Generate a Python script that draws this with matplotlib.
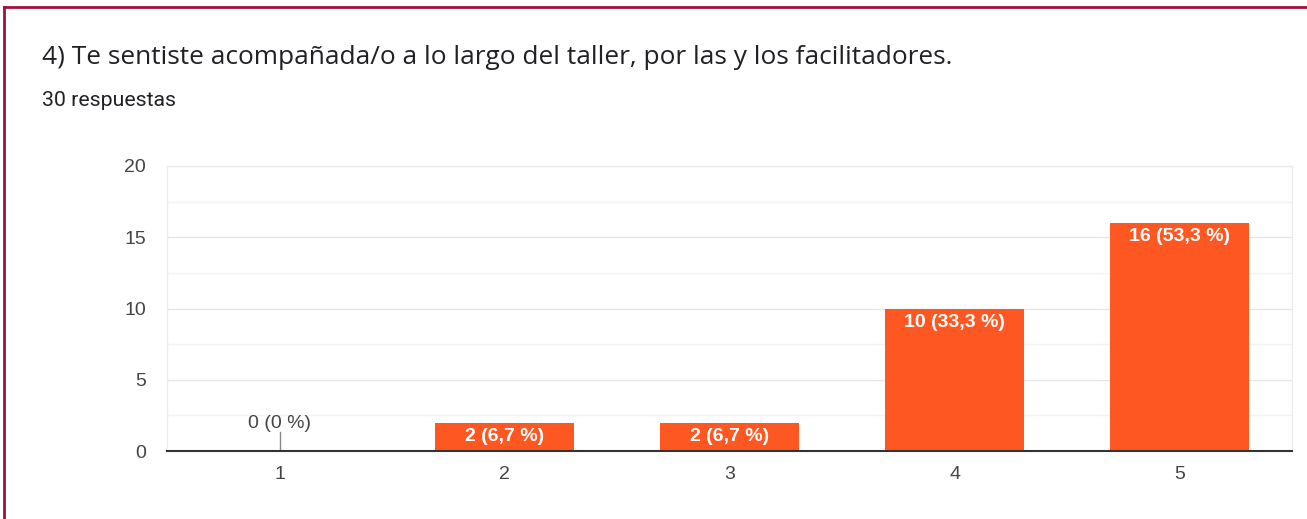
import matplotlib
matplotlib.use("Agg")
import matplotlib.pyplot as plt
from matplotlib.lines import Line2D

categories = ["1", "2", "3", "4", "5"]
counts = [0, 2, 2, 10, 16]
percents = ["0 %", "6,7 %", "6,7 %", "33,3 %", "53,3 %"]
yticks = [0, 5, 10, 15, 20]
title = "4) Te sentiste acompañada/o a lo largo del taller, por las y los facilitadores."
subtitle = "30 respuestas"

W, H = 1307, 519
fig = plt.figure(figsize=(W / 100, H / 100), dpi=100)
fig.patch.set_facecolor("white")
plt.rcParams["font.family"] = ["Liberation Sans", "DejaVu Sans"]

ax = fig.add_axes([167 / W, (H - 451) / H, (1292 - 167) / W, (451 - 166) / H])
x = list(range(len(categories)))
bar_color = "#ff5722"
bars = ax.bar(x, counts, width=0.62, color=bar_color, zorder=3)
ax.set_xlim(-0.5, len(categories) - 0.5)
ax.set_ylim(0, 20)
ax.set_yticks(yticks)
ax.set_yticks([2.5, 7.5, 12.5, 17.5], minor=True)
ax.set_xticks(x)
ax.set_xticklabels(categories)
ax.tick_params(axis="both", which="both", length=0, labelsize=14, colors="#444444")
ax.tick_params(axis="y", pad=15)
ax.tick_params(axis="x", pad=11)
ax.grid(axis="y", which="major", color="#e6e6e6", linewidth=1, zorder=0)
ax.grid(axis="y", which="minor", color="#f3f3f3", linewidth=1, zorder=0)
for s in ["left", "right", "top"]:
    ax.spines[s].set_color("#ececec")
    ax.spines[s].set_linewidth(1)
ax.spines["bottom"].set_color("#333333")
ax.spines["bottom"].set_linewidth(1.5)
ax.spines["bottom"].set_zorder(5)

for xi, c, p in zip(x, counts, percents):
    label = f"{c} ({p})"
    if c == 0:
        ax.plot([xi - 0.31, xi + 0.31], [0.03, 0.03], color="#fbd0c0", lw=1.2, zorder=4)
        ax.plot([xi, xi], [0, 1.3], color="#888888", lw=1, zorder=4)
        ax.annotate(label, (xi, 1.3), xytext=(0, 0), textcoords="offset points",
                    ha="center", va="bottom", fontsize=14, color="#444444")
    else:
        ax.annotate(label, (xi, c), xytext=(0, -10), textcoords="offset points",
                    ha="center", va="center", fontsize=14, color="white",
                    fontweight="bold", zorder=6)

fig.canvas.draw()
renderer = fig.canvas.get_renderer()


def fit_text(xp, yp, s, family, target_w, size0):
    t = fig.text(xp / W, 1 - yp / H, s, fontsize=size0, color="#202124",
                 va="center", ha="left", family=family)
    for _ in range(3):
        w = t.get_window_extent(renderer).width
        t.set_fontsize(t.get_fontsize() * target_w / w)
    return t


fit_text(42, 57, title, ["Open Sans", "DejaVu Sans"], 908, 17.5)
fit_text(42, 100, subtitle, ["Roboto", "DejaVu Sans"], 134, 15)

border = "#a0103c"
fig.add_artist(Line2D([4 / W, 4 / W], [0, 1 - 7 / H], color=border, lw=2, transform=fig.transFigure))
fig.add_artist(Line2D([4 / W, 1], [1 - 7 / H, 1 - 7 / H], color=border, lw=2, transform=fig.transFigure))

fig.savefig("out.png", dpi=100)
